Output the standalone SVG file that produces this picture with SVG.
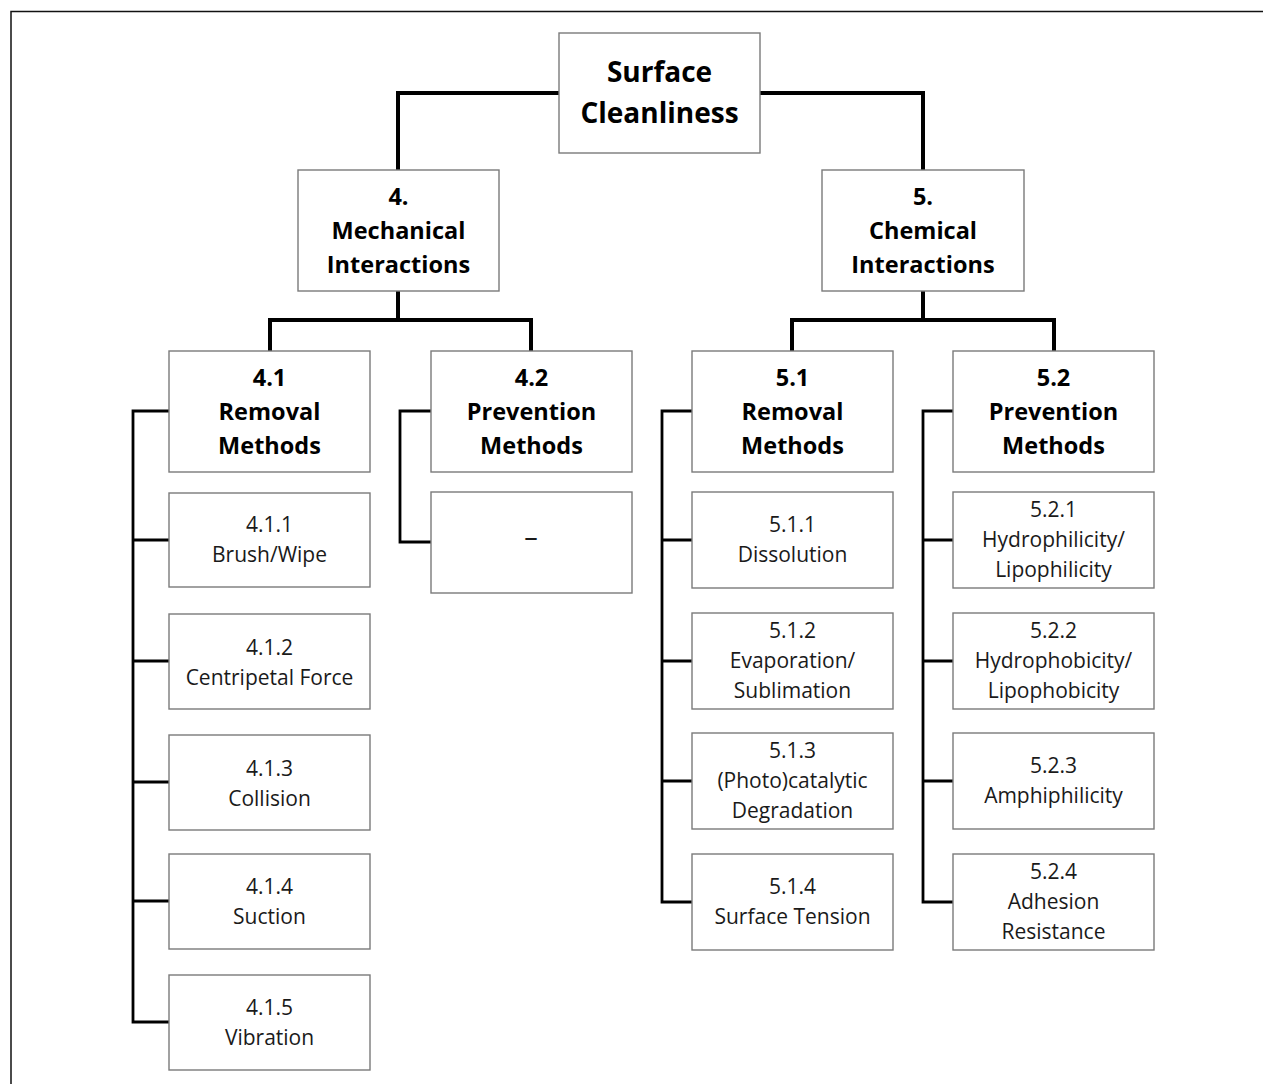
<svg xmlns="http://www.w3.org/2000/svg" width="1263" height="1084" viewBox="0 0 1263 1084">
<style>
.box{fill:#fff;stroke:#7a7a7a;stroke-width:1.4}
.t{font-family:"Open Sans","Noto Sans",sans-serif;font-size:21px;fill:#1a1a1a;text-anchor:middle}
.b{font-family:"Open Sans","Noto Sans",sans-serif;font-size:23.5px;font-weight:700;fill:#000;text-anchor:middle}
.r{font-family:"Open Sans","Noto Sans",sans-serif;font-size:28px;font-weight:700;fill:#000;text-anchor:middle}
.c1{fill:none;stroke:#000;stroke-width:4}
.c2{fill:none;stroke:#000;stroke-width:2.8}
</style>
<rect width="1263" height="1084" fill="#fff"/>
<path d="M11,1084 V11.5 H1263" fill="none" stroke="#111" stroke-width="1.5"/>
<g id="connectors">
<path class="c1" d="M559,93 H398 V170 M760,93 H923 V170"/>
<path class="c1" d="M398,291 V320 M270,351 V320 H531 V351"/>
<path class="c1" d="M923,291 V320 M792,351 V320 H1054 V351"/>
<path class="c2" d="M169,411 H133 V1022 H169 M133,540 H169 M133,661 H169 M133,782 H169 M133,901 H169"/>
<path class="c2" d="M431,411 H400 V542 H431"/>
<path class="c2" d="M692,411 H662 V902 H692 M662,540 H692 M662,661 H692 M662,781 H692"/>
<path class="c2" d="M953,411 H923 V902 H953 M923,540 H953 M923,661 H953 M923,781 H953"/>
</g>
<g id="root"><rect class="box" x="559" y="33" width="201" height="120"/><text class="r" x="659.5" y="82">Surface</text><text class="r" x="659.5" y="123">Cleanliness</text></g>
<g id="n4"><rect class="box" x="298" y="170" width="201" height="121"/><text class="b" x="398.5" y="205">4.</text><text class="b" x="398.5" y="239">Mechanical</text><text class="b" x="398.5" y="273">Interactions</text></g>
<g id="n5"><rect class="box" x="822" y="170" width="202" height="121"/><text class="b" x="923" y="205">5.</text><text class="b" x="923" y="239">Chemical</text><text class="b" x="923" y="273">Interactions</text></g>
<g id="n41"><rect class="box" x="169" y="351" width="201" height="121"/><text class="b" x="269.5" y="386">4.1</text><text class="b" x="269.5" y="420">Removal</text><text class="b" x="269.5" y="454">Methods</text></g>
<g id="n42"><rect class="box" x="431" y="351" width="201" height="121"/><text class="b" x="531.5" y="386">4.2</text><text class="b" x="531.5" y="420">Prevention</text><text class="b" x="531.5" y="454">Methods</text></g>
<g id="n51"><rect class="box" x="692" y="351" width="201" height="121"/><text class="b" x="792.5" y="386">5.1</text><text class="b" x="792.5" y="420">Removal</text><text class="b" x="792.5" y="454">Methods</text></g>
<g id="n52"><rect class="box" x="953" y="351" width="201" height="121"/><text class="b" x="1053.5" y="386">5.2</text><text class="b" x="1053.5" y="420">Prevention</text><text class="b" x="1053.5" y="454">Methods</text></g>
<g id="n411"><rect class="box" x="169" y="493" width="201" height="94"/><text class="t" x="269.5" y="532">4.1.1</text><text class="t" x="269.5" y="562">Brush/Wipe</text></g>
<g id="n412"><rect class="box" x="169" y="614" width="201" height="95"/><text class="t" x="269.5" y="655">4.1.2</text><text class="t" x="269.5" y="685">Centripetal Force</text></g>
<g id="n413"><rect class="box" x="169" y="735" width="201" height="95"/><text class="t" x="269.5" y="776">4.1.3</text><text class="t" x="269.5" y="806">Collision</text></g>
<g id="n414"><rect class="box" x="169" y="854" width="201" height="95"/><text class="t" x="269.5" y="894">4.1.4</text><text class="t" x="269.5" y="924">Suction</text></g>
<g id="n415"><rect class="box" x="169" y="975" width="201" height="95"/><text class="t" x="269.5" y="1015">4.1.5</text><text class="t" x="269.5" y="1045">Vibration</text></g>
<g id="n421"><rect class="box" x="431" y="492" width="201" height="101"/><text class="t" x="531" y="546" style="font-size:27px">–</text></g>
<g id="n511"><rect class="box" x="692" y="492" width="201" height="96"/><text class="t" x="792.5" y="532">5.1.1</text><text class="t" x="792.5" y="562">Dissolution</text></g>
<g id="n512"><rect class="box" x="692" y="613" width="201" height="96"/><text class="t" x="792.5" y="638">5.1.2</text><text class="t" x="792.5" y="668">Evaporation/</text><text class="t" x="792.5" y="698">Sublimation</text></g>
<g id="n513"><rect class="box" x="692" y="733" width="201" height="96"/><text class="t" x="792.5" y="758">5.1.3</text><text class="t" x="792.5" y="788">(Photo)catalytic</text><text class="t" x="792.5" y="818">Degradation</text></g>
<g id="n514"><rect class="box" x="692" y="854" width="201" height="96"/><text class="t" x="792.5" y="894">5.1.4</text><text class="t" x="792.5" y="924">Surface Tension</text></g>
<g id="n521"><rect class="box" x="953" y="492" width="201" height="96"/><text class="t" x="1053.5" y="517">5.2.1</text><text class="t" x="1053.5" y="547">Hydrophilicity/</text><text class="t" x="1053.5" y="577">Lipophilicity</text></g>
<g id="n522"><rect class="box" x="953" y="613" width="201" height="96"/><text class="t" x="1053.5" y="638">5.2.2</text><text class="t" x="1053.5" y="668">Hydrophobicity/</text><text class="t" x="1053.5" y="698">Lipophobicity</text></g>
<g id="n523"><rect class="box" x="953" y="733" width="201" height="96"/><text class="t" x="1053.5" y="773">5.2.3</text><text class="t" x="1053.5" y="803">Amphiphilicity</text></g>
<g id="n524"><rect class="box" x="953" y="854" width="201" height="96"/><text class="t" x="1053.5" y="879">5.2.4</text><text class="t" x="1053.5" y="909">Adhesion</text><text class="t" x="1053.5" y="939">Resistance</text></g>
</svg>
